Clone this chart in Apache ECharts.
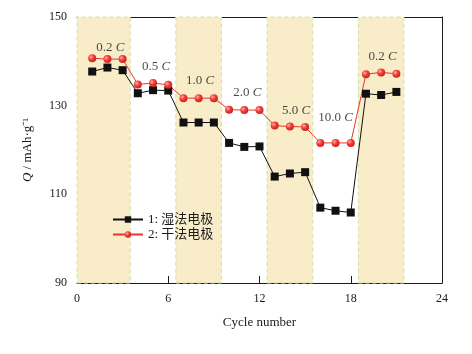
<!DOCTYPE html>
<html>
<head>
<meta charset="utf-8">
<script src="https://cdn.jsdelivr.net/npm/echarts@6/dist/echarts.min.js"></script>
<style>
html, body { margin: 0; padding: 0; background: #fff; }
#chart { width: 472px; height: 354px; }
</style>
</head>
<body>
<div id="chart"></div>
<script>
// cycle numbers
const cycles = [1, 2, 3, 4, 5, 6, 7, 8, 9, 10, 11, 12, 13, 14, 15, 16, 17, 18, 19, 20, 21];
// 1: 湿法电极 (wet electrode)
const wetValues = [137.7, 138.6, 138.0, 132.8, 133.5, 133.4, 126.2, 126.2, 126.2, 121.6, 120.7, 120.8,
                   114.0, 114.7, 115.0, 107.0, 106.3, 105.9, 132.7, 132.4, 133.1];
// 2: 干法电极 (dry electrode)
const dryValues = [140.7, 140.5, 140.5, 134.8, 135.1, 134.7, 131.7, 131.7, 131.7, 129.1, 129.0, 129.0,
                   125.5, 125.3, 125.2, 121.6, 121.6, 121.6, 137.1, 137.5, 137.2];
// shaded rate bands (cycle ranges)
const bands = [[0, 3.5], [6.5, 9.5], [12.5, 15.5], [18.5, 21.5]];
// rate annotations
const rateNames = ['0.2', '0.5', '1.0', '2.0', '5.0', '10.0', '0.2'];
const rateX = [2.2, 5.2, 8.1, 11.2, 14.4, 17.0, 20.1];
const rateY = [143.2, 138.8, 135.6, 132.9, 129.0, 127.4, 141.0];
const yTicks = [90, 110, 130, 150];
const xTicks = [0, 6, 12, 18, 24];

const serif = '"Liberation Serif", "Times New Roman", serif';
const cjk = '"Liberation Serif", "Noto Sans CJK SC", serif';

let myChart = echarts.init(document.getElementById('chart'));

const redBall = {
    type: 'radial', x: 0.35, y: 0.35, r: 0.75,
    colorStops: [
        { offset: 0, color: '#ffb0a8' },
        { offset: 0.45, color: '#ee3b33' },
        { offset: 1, color: '#c41f1a' }
    ]
};

let option = {
    backgroundColor: '#fff',
    animation: false,
    grid: { left: 77, right: 30, top: 17, bottom: 71 },
    legend: {
        orient: 'vertical',
        left: 107,
        top: 208,
        itemWidth: 30,
        itemHeight: 8,
        itemGap: 2,
        textStyle: { fontFamily: cjk, fontSize: 13, color: '#1a1a1a' },
        data: ['1: 湿法电极', '2: 干法电极']
    },
    xAxis: [{
        type: 'value',
        min: xTicks[0],
        max: xTicks[xTicks.length - 1],
        interval: 6,
        name: 'Cycle number',
        nameLocation: 'middle',
        nameGap: 33,
        nameTextStyle: { fontFamily: serif, fontSize: 13, color: '#1a1a1a' },
        axisLine: { lineStyle: { color: '#1a1a1a', width: 1 } },
        axisTick: { inside: true, length: 7, lineStyle: { color: '#1a1a1a' } },
        minorTick: { show: true, splitNumber: 2, length: 4, lineStyle: { color: '#1a1a1a' } },
        axisLabel: { fontFamily: serif, fontSize: 12, color: '#1a1a1a', margin: 10 },
        splitLine: { show: false }
    }, {
        type: 'value',
        position: 'top',
        min: 0, max: 24,
        axisLine: { onZero: false, lineStyle: { color: '#1a1a1a', width: 1 } },
        axisTick: { show: false },
        axisLabel: { show: false },
        splitLine: { show: false }
    }],
    yAxis: [{
        type: 'value',
        min: yTicks[0],
        max: yTicks[yTicks.length - 1],
        interval: 20,
        name: '{q|Q} / mAh·g⁻¹',
        nameLocation: 'middle',
        nameRotate: 90,
        nameGap: 43,
        nameTextStyle: {
            fontFamily: serif, fontSize: 13, color: '#1a1a1a',
            rich: { q: { fontFamily: serif, fontStyle: 'italic', fontSize: 13, color: '#1a1a1a' } }
        },
        axisLine: { show: true, lineStyle: { color: '#1a1a1a', width: 1 } },
        axisTick: { inside: true, length: 7, lineStyle: { color: '#1a1a1a' } },
        minorTick: { show: true, splitNumber: 2, length: 4, lineStyle: { color: '#1a1a1a' } },
        axisLabel: { fontFamily: serif, fontSize: 12, color: '#1a1a1a', margin: 10 },
        splitLine: { show: false }
    }, {
        type: 'value',
        position: 'right',
        min: 90, max: 150,
        axisLine: { show: true, onZero: false, lineStyle: { color: '#1a1a1a', width: 1 } },
        axisTick: { show: false },
        axisLabel: { show: false },
        splitLine: { show: false }
    }],
    series: [
        {
            name: 'bands',
            type: 'line',
            data: [],
            silent: true,
            markArea: {
                silent: true,
                itemStyle: {
                    color: '#f8ecc9',
                    borderColor: '#cfe3a8',
                    borderWidth: 1,
                    borderType: [4, 3]
                },
                data: bands.map(b => [{ xAxis: b[0], yAxis: 90 }, { xAxis: b[1], yAxis: 150 }])
            }
        },
        {
            name: '1: 湿法电极',
            type: 'line',
            z: 3,
            data: cycles.map((c, i) => [c, wetValues[i]]),
            symbol: 'rect',
            symbolSize: 8,
            lineStyle: { color: '#111', width: 1 },
            itemStyle: { color: '#111' }
        },
        {
            name: '2: 干法电极',
            type: 'line',
            z: 3,
            data: cycles.map((c, i) => [c, dryValues[i]]),
            symbol: 'circle',
            symbolSize: 8,
            lineStyle: { color: '#e8352f', width: 1 },
            itemStyle: { color: redBall }
        },
        {
            name: 'rates',
            type: 'scatter',
            symbolSize: 0,
            silent: true,
            data: rateNames.map((n, i) => ({ value: [rateX[i], rateY[i]], name: n })),
            label: {
                show: true,
                position: 'inside',
                formatter: p => '{n|' + p.name + ' }{i|C}',
                rich: {
                    n: { fontFamily: serif, fontSize: 13, color: '#1a1a1a' },
                    i: { fontFamily: serif, fontSize: 13, fontStyle: 'italic', color: '#1a1a1a' }
                }
            }
        }
    ]
};

myChart.setOption(option);
</script>
</body>
</html>
